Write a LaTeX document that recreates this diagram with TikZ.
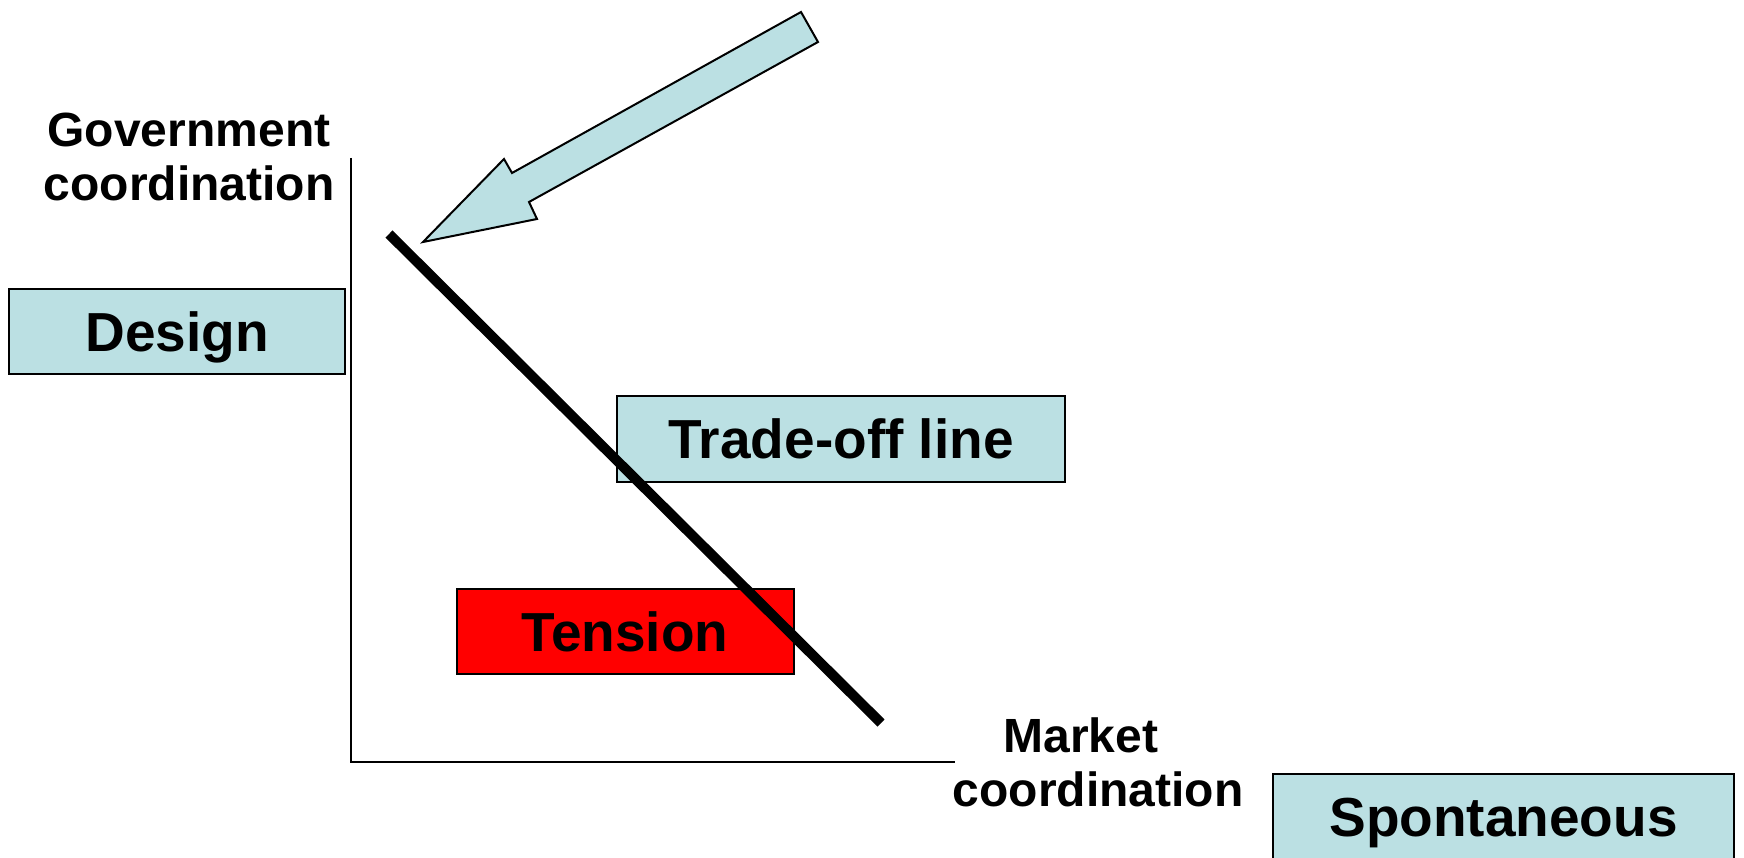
\documentclass[tikz,border=0pt]{standalone}
\usepackage{fontspec}
\setmainfont{Liberation Sans}
\definecolor{paleblue}{RGB}{187,224,227}
\definecolor{alarmred}{RGB}{255,0,0}
\begin{document}
\begin{tikzpicture}[x=1pt,y=-1pt,
  box/.style={draw=black, line width=2pt, fill=paleblue, inner sep=0pt,
    text height=39pt, text depth=0pt,
    font=\fontsize{55}{60}\selectfont\bfseries},
  axislabel/.style={align=center, inner sep=0pt,
    font=\fontsize{48}{54}\selectfont\bfseries},
  axisline/.style={line width=2.5pt},
  tradeoff/.style={line width=10pt},
  bigarrow/.style={draw=black, line width=2pt, fill=paleblue, line join=miter}]

% canvas
\useasboundingbox (0,0) rectangle (1744,858);
\clip (0,0) rectangle (1744,858);

% axes
\coordinate (origin) at (351,762);
\coordinate (ytop) at (351,158);
\coordinate (xend) at (955,762);
\draw[axisline] (ytop) -- (origin) -- (xend);

% axis labels
\node[axislabel, anchor=north] (govlabel) at (189,113) {Government\\coordination};
\node[axislabel, anchor=north] (mktlabel) at (1098,718) {Market\hspace*{34pt}\\coordination};

% labelled boxes
\node[box, minimum width=336pt, minimum height=85pt] (design) at (177,331.5) {Design};
\node[box, minimum width=448pt, minimum height=86pt] (tradebox) at (841,439) {Trade-off line};
\node[box, fill=alarmred, minimum width=337pt, minimum height=85pt] (tension) at (625,631.5) {Tension};
\node[box, minimum width=461pt, minimum height=85pt] (spont) at (1503.5,816.5) {Spontaneous};

% trade-off line
\coordinate (tradeA) at (389,234);
\coordinate (tradeB) at (881,723);
\draw[tradeoff] (tradeA) -- (tradeB);

% block arrow pointing at the upper end of the trade-off line
\coordinate (tailA) at (801,12);
\coordinate (shaftA) at (512,173);
\coordinate (barbA) at (504,159);
\coordinate (tip) at (423,242);
\coordinate (barbB) at (537,219);
\coordinate (shaftB) at (529,202);
\coordinate (tailB) at (818,42);
\draw[bigarrow] (tailA) -- (shaftA) -- (barbA) -- (tip) -- (barbB) -- (shaftB) -- (tailB) -- cycle;

\end{tikzpicture}
\end{document}
